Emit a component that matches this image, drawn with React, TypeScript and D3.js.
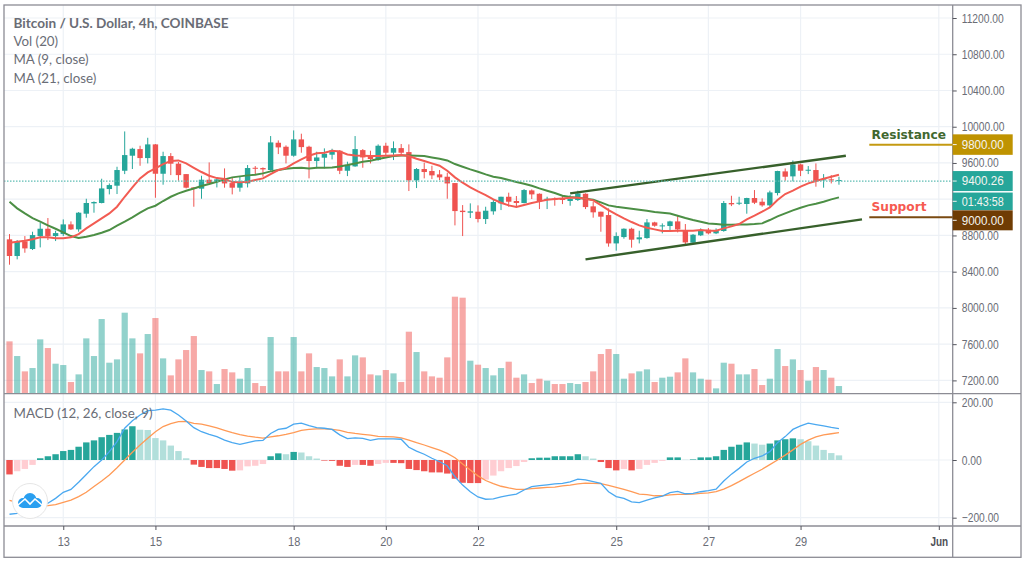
import React, { useEffect, useRef } from "react"
import * as d3 from "d3"

// values, one per 4h bar
const opens = [
  8757,8573,8735,8650,8793,8874,8793,8815,8922,8867,
  9040,9154,9158,9312,9349,9514,9680,9753,9654,9805,
  9481,9676,9592,9477,9330,9316,9415,9389,9426,9378,
  9327,9374,9547,9544,9522,9823,9779,9680,9860,9779,
  9621,9658,9691,9735,9514,9562,9742,9683,9632,9790,
  9713,9764,9720,9408,9533,9511,9474,9448,9378,9073,
  9051,9062,8981,9066,9154,9227,9180,9158,9297,9260,
  9191,9205,9209,9180,9191,9260,9121,9062,9025,8712,
  8782,8874,8757,8771,8944,8900,8904,8955,8860,8720,
  8801,8863,8823,8849,9158,9150,9147,9213,9172,9132,
  9268,9507,9452,9584,9514,9522,9411,9419,9400,
]
const highs = [
  8815,8749,8793,8841,8940,8992,8852,8977,8955,9058,
  9205,9176,9426,9374,9558,9948,9768,9790,9878,9809,
  9724,9709,9610,9477,9330,9459,9606,9441,9540,9441,
  9448,9577,9566,9551,9897,9849,9794,9959,9923,9790,
  9724,9761,9757,9742,9614,9897,9753,9735,9805,9823,
  9838,9809,9805,9544,9603,9569,9522,9492,9378,9135,
  9154,9132,9117,9202,9227,9272,9235,9312,9308,9264,
  9227,9220,9242,9246,9294,9264,9169,9062,9099,8834,
  8878,8885,8852,8981,8951,8933,8962,9025,8926,8815,
  8878,8882,8878,9180,9238,9227,9216,9301,9209,9294,
  9514,9540,9628,9592,9566,9595,9477,9466,9448,
]
const lows = [
  8477,8536,8609,8639,8668,8749,8738,8793,8860,8841,
  8996,9051,9154,9253,9257,9477,9533,9569,9595,9216,
  9360,9466,9404,9319,9117,9205,9374,9330,9327,9253,
  9283,9330,9466,9448,9514,9698,9595,9669,9713,9430,
  9540,9540,9639,9477,9455,9558,9547,9595,9625,9676,
  9632,9687,9290,9323,9430,9422,9411,9205,8911,8793,
  8992,8944,8926,9029,9080,9117,9106,9154,9202,9091,
  9091,9128,9146,9128,9180,9091,8996,8841,8676,8632,
  8764,8665,8712,8764,8896,8823,8852,8834,8705,8712,
  8793,8812,8815,8841,9124,9135,9040,9146,9117,9117,
  9242,9404,9397,9455,9477,9338,9327,9374,9360,
]
const closes = [
  8573,8731,8657,8804,8874,8793,8826,8922,8867,9051,
  9158,9169,9319,9356,9522,9687,9757,9654,9805,9481,
  9676,9592,9466,9327,9316,9415,9374,9419,9374,9327,
  9389,9544,9536,9529,9827,9772,9680,9860,9775,9621,
  9661,9702,9739,9514,9577,9753,9661,9643,9790,9713,
  9764,9713,9408,9533,9500,9463,9441,9374,9069,9058,
  9066,8981,9073,9169,9227,9172,9158,9301,9253,9176,
  9205,9191,9191,9205,9264,9113,9055,9007,8712,8793,
  8874,8753,8779,8944,8907,8911,8955,8867,8723,8808,
  8856,8823,8860,9158,9143,9161,9213,9161,9132,9275,
  9511,9448,9584,9514,9525,9400,9419,9408,9411,
]
const ma9 = [
  8720,8731,8742,8757,8779,8779,8768,8768,8779,8815,
  8878,8933,8988,9043,9117,9227,9330,9430,9496,9540,
  9588,9621,9628,9595,9547,9500,9459,9433,9422,9389,
  9386,9393,9411,9430,9477,9522,9544,9595,9639,9680,
  9706,9713,9735,9727,9694,9683,9680,9676,9676,9680,
  9683,9687,9676,9647,9621,9595,9569,9514,9441,9382,
  9330,9286,9246,9198,9161,9132,9113,9135,9158,9176,
  9194,9202,9209,9216,9216,9205,9187,9135,9080,9032,
  8988,8948,8911,8885,8867,8849,8849,8852,8852,8852,
  8860,8852,8852,8878,8900,8926,8977,9018,9062,9110,
  9191,9257,9294,9338,9375,9400,9426,9448,9470,
]
const ma21 = [
  9172,9099,9043,8992,8952,8911,8874,8834,8793,8771,
  8786,8804,8830,8860,8907,8952,9000,9051,9099,9128,
  9180,9227,9264,9294,9319,9345,9367,9393,9419,9441,
  9452,9463,9470,9485,9507,9522,9536,9544,9547,9540,
  9547,9547,9551,9562,9577,9595,9614,9625,9643,9661,
  9676,9683,9683,9680,9676,9661,9647,9628,9588,9558,
  9529,9503,9474,9448,9433,9411,9389,9371,9349,9319,
  9294,9268,9238,9224,9216,9205,9194,9165,9132,9117,
  9106,9095,9084,9073,9058,9051,9043,9018,8992,8970,
  8952,8933,8926,8918,8918,8922,8922,8926,8933,8970,
  9010,9043,9077,9106,9132,9150,9172,9198,9220,
]
const volumes = [
  157,113,67,77,163,137,90,86,35,58,
  166,113,224,93,103,243,166,121,179,227,
  106,55,103,131,173,71,67,29,74,64,
  45,77,32,23,170,67,67,170,67,121,
  80,77,52,103,52,115,109,58,55,71,
  61,35,186,125,67,52,48,109,291,288,
  99,87,77,55,77,96,48,58,32,45,
  39,29,29,32,29,35,67,119,134,119,
  45,61,67,73,35,48,51,64,106,64,
  45,42,16,93,90,58,58,74,26,45,
  134,83,103,71,39,80,71,48,23,
]
const macdHist = [
  -50,-39,-31,-17,6,13,20,31,35,46,
  61,68,79,87,94,106,117,105,104,76,
  68,50,31,6,-16,-24,-28,-28,-31,-37,
  -36,-22,-20,-14,13,23,20,28,26,13,
  5,-2,-3,-20,-24,-17,-17,-20,-14,-10,
  -10,-11,-31,-35,-39,-43,-43,-47,-65,-79,
  -80,-80,-68,-54,-39,-28,-21,-7,6,8,
  8,13,13,13,20,13,5,-7,-28,-36,
  -31,-36,-31,-17,-10,-3,9,9,1,2,
  9,9,13,35,46,53,61,57,53,57,
  68,72,75,72,65,50,35,24,16,
]
const macdLine = [
  -188,-185,-179,-170,-160,-150,-133,-112,-102,-77,
  -50,-23,0,29,64,110,136,156,171,173,
  177,173,156,135,112,98,89,81,69,60,
  54,60,66,68,92,106,110,124,128,119,
  112,110,106,87,74,77,75,68,73,73,
  73,72,44,31,20,6,-6,-20,-58,-87,
  -110,-128,-136,-135,-128,-123,-118,-104,-92,-89,
  -86,-83,-81,-76,-66,-69,-75,-81,-110,-127,
  -133,-145,-148,-139,-131,-125,-113,-109,-117,-116,
  -110,-106,-101,-73,-49,-29,-7,6,14,29,
  60,81,106,118,128,123,118,113,109,
]
const macdSignal = [
  -140,-147,-153,-157,-160,-158,-155,-147,-139,-127,
  -112,-92,-73,-52,-27,0,27,52,75,98,
  116,126,133,134,127,124,118,111,103,95,
  88,83,79,76,80,84,89,95,103,106,
  108,108,106,103,96,92,89,86,82,81,
  80,77,69,60,52,43,34,23,8,-14,
  -35,-55,-71,-82,-91,-97,-102,-102,-99,-97,
  -95,-94,-90,-87,-83,-80,-81,-82,-88,-95,
  -102,-110,-118,-120,-124,-124,-121,-119,-119,-118,
  -116,-114,-110,-101,-89,-75,-60,-46,-32,-16,
  0,17,35,54,69,80,87,91,95,
]

const priceGrid = [11200,10800,10400,10000,9600,9200,8800,8400,8000,7600,7200]
// 9200 sits behind the countdown tag, so it gets no label
const priceTicks = [11200,10800,10400,10000,9600,8800,8400,8000,7600,7200]
const macdTicks = [200,0,-200]
const dayBars = [7,19,37,49,61,79,91,103,121]
const dayLabels = ["13","15","18","20","22","25","27","29","Jun"]

// [bar, price] ends of the channel drawn on the chart
const upperTrend = [[73,9264],[108.9,9680]]
const lowerTrend = [[75,8536],[111,8977]]

const lastPrice = 9400.26
const countdown = "01:43:58"
const resistance = 9800
const support = 9000
const legend = ["Vol (20)","MA (9, close)","MA (21, close)"]

const UP = "#26a69a"
const DOWN = "#ef5350"
const GRID = "#edf1f6"
const FRAME = "#8c8c94"
const TEXT = "#6a6d76"
const AXIS_FONT = "'Liberation Sans', Arial, sans-serif"
const LEGEND_FONT = "Lato, 'Open Sans', sans-serif"

const paneRight = 952.7
const frameRight = 1021
const frameTop = 5
const paneBottom = 393.7
const timeAxisY = 526
const frameBottom = 557.3

export default function App() {
  const ref = useRef<SVGSVGElement>(null)

  useEffect(() => {
    const svg = d3.select(ref.current)
    svg.selectAll("*").remove()

    const x = d3.scaleLinear().domain([0, 121]).range([9.5, 938.8])
    const yPrice = d3.scaleLinear().domain([7200, 11200]).range([380.4, 18])
    const yVol = d3.scaleLinear().domain([0, 291]).range([paneBottom, 296.7])
    const yMacd = d3.scaleLinear().domain([-200, 200]).range([517.7, 402.3])
    const bars = d3.range(opens.length)

    // grid
    const grid = svg.append("g").attr("stroke", GRID).attr("stroke-width", 1.2)
    grid.selectAll(".gy").data(priceGrid).join("line")
      .attr("class", "gy").attr("x1", 4).attr("x2", paneRight)
      .attr("y1", d => yPrice(d)).attr("y2", d => yPrice(d))
    grid.selectAll(".gm").data(macdTicks).join("line")
      .attr("class", "gm").attr("x1", 4).attr("x2", paneRight)
      .attr("y1", d => yMacd(d)).attr("y2", d => yMacd(d))
    grid.selectAll(".gx").data(dayBars).join("line")
      .attr("class", "gx").attr("y1", frameTop).attr("y2", timeAxisY)
      .attr("x1", d => x(d)).attr("x2", d => x(d))

    // volume
    svg.append("g").selectAll("rect").data(bars).join("rect")
      .attr("x", i => x(i) - 3.1).attr("width", 6.2)
      .attr("y", i => yVol(volumes[i]))
      .attr("height", i => yVol(0) - yVol(volumes[i]))
      .attr("fill", i => closes[i] >= opens[i] ? UP : DOWN)
      .attr("fill-opacity", 0.5)

    // macd histogram, dark when moving away from zero
    svg.append("g").selectAll("rect").data(bars).join("rect")
      .attr("x", i => x(i) - 3.2).attr("width", 6.4)
      .attr("y", i => yMacd(Math.max(0, macdHist[i])))
      .attr("height", i => Math.abs(yMacd(macdHist[i]) - yMacd(0)))
      .attr("fill", i => {
        const v = macdHist[i]
        const prev = i > 0 ? macdHist[i - 1] : 0
        if (v >= 0) return v >= prev ? "#26a69a" : "#b2dfdb"
        return v <= prev ? "#ef5350" : "#ffcdd2"
      })

    const line = (yScale: d3.ScaleLinear<number, number>) =>
      d3.line<number>().x((_, i) => x(i)).y(d => yScale(d)).curve(d3.curveLinear)

    svg.append("path").attr("d", line(yMacd)(macdSignal))
      .attr("fill", "none").attr("stroke", "#ff9a56").attr("stroke-width", 1.3)
    svg.append("path").attr("d", line(yMacd)(macdLine))
      .attr("fill", "none").attr("stroke", "#4aa8f0").attr("stroke-width", 1.3)

    // candles
    const candles = svg.append("g").selectAll("g").data(bars).join("g")
      .attr("fill", i => closes[i] >= opens[i] ? UP : DOWN)
      .attr("stroke", i => closes[i] >= opens[i] ? UP : DOWN)
    candles.append("line")
      .attr("x1", i => x(i)).attr("x2", i => x(i))
      .attr("y1", i => yPrice(highs[i])).attr("y2", i => yPrice(lows[i]))
      .attr("stroke-width", 1)
    candles.append("rect")
      .attr("x", i => x(i) - 2.7).attr("width", 5.4)
      .attr("y", i => yPrice(Math.max(opens[i], closes[i])))
      .attr("height", i => Math.max(1, Math.abs(yPrice(opens[i]) - yPrice(closes[i]))))
      .attr("stroke", "none")

    // moving averages
    svg.append("path").attr("d", line(yPrice)(ma21))
      .attr("fill", "none").attr("stroke", "#4c8f45").attr("stroke-width", 2)
    svg.append("path").attr("d", line(yPrice)(ma9))
      .attr("fill", "none").attr("stroke", "#f25b52").attr("stroke-width", 2)

    // channel
    svg.append("g").selectAll("line").data([upperTrend, lowerTrend]).join("line")
      .attr("x1", d => x(d[0][0])).attr("y1", d => yPrice(d[0][1]))
      .attr("x2", d => x(d[1][0])).attr("y2", d => yPrice(d[1][1]))
      .attr("stroke", "#37602b").attr("stroke-width", 2.4)

    // last price
    svg.append("line")
      .attr("x1", 4).attr("x2", paneRight)
      .attr("y1", yPrice(lastPrice)).attr("y2", yPrice(lastPrice))
      .attr("stroke", "#5fbdb4").attr("stroke-width", 1.2).attr("stroke-dasharray", "1.5 1.5")

    // logo
    const logo = svg.append("g").attr("transform", "translate(30,501)")
    logo.append("circle").attr("r", 17.5).attr("fill", "#fff").attr("stroke", "#e6e6e6")
    const cloud = logo.append("g").attr("fill", "#2a9ff0")
    cloud.append("circle").attr("cx", -7).attr("cy", 2).attr("r", 5)
    cloud.append("circle").attr("cx", 0).attr("cy", -1.5).attr("r", 6.5)
    cloud.append("circle").attr("cx", 7).attr("cy", 2).attr("r", 5)
    cloud.append("rect").attr("x", -7).attr("y", 2).attr("width", 14).attr("height", 5)
    logo.append("path").attr("d", "M-12,4 L-5,-2 L0,3 L5,-2 L12,4")
      .attr("fill", "none").attr("stroke", "#fff").attr("stroke-width", 1.6)

    // frame
    const frame = svg.append("g").attr("stroke", FRAME).attr("stroke-width", 1.3)
    frame.append("rect").attr("x", 4).attr("y", frameTop)
      .attr("width", frameRight - 4).attr("height", frameBottom - frameTop).attr("fill", "none")
    const rules = [[4, paneBottom, frameRight, paneBottom], [4, timeAxisY, frameRight, timeAxisY], [paneRight, frameTop, paneRight, frameBottom]]
    frame.selectAll("line").data(rules).join("line")
      .attr("x1", d => d[0]).attr("y1", d => d[1]).attr("x2", d => d[2]).attr("y2", d => d[3])

    // axes
    const styleAxis = (g: any) => {
      g.select(".domain").remove()
      g.selectAll("line").attr("stroke", "#55565e")
      g.selectAll("text").attr("fill", TEXT).attr("font-family", AXIS_FONT).attr("font-size", 12.5)
    }
    const fmt = d3.format(".2f")
    const priceAxis = svg.append("g").attr("transform", `translate(${paneRight},0)`)
      .call(d3.axisRight(yPrice).tickValues(priceTicks).tickFormat(fmt).tickSize(4).tickPadding(5))
    styleAxis(priceAxis)
    const macdAxis = svg.append("g").attr("transform", `translate(${paneRight},0)`)
      .call(d3.axisRight(yMacd).tickValues(macdTicks).tickFormat(fmt).tickSize(4).tickPadding(5))
    styleAxis(macdAxis)
    svg.selectAll(".tick text").attr("lengthAdjust", "spacingAndGlyphs")
      .attr("textLength", function () { return (this as SVGTextElement).getComputedTextLength() * 0.82 })

    const timeAxis = svg.append("g").attr("transform", `translate(0,${timeAxisY})`)
      .call(d3.axisBottom(x).tickValues(dayBars)
        .tickFormat((_, i) => dayLabels[i]).tickSize(4).tickPadding(7))
    styleAxis(timeAxis)
    timeAxis.selectAll("text").attr("lengthAdjust", "spacingAndGlyphs")
      .attr("textLength", function () { return (this as SVGTextElement).getComputedTextLength() * 0.88 })
    timeAxis.selectAll("text").filter((_, i) => i === dayLabels.length - 1)
      .attr("font-weight", "bold").attr("fill", "#4f5058")

    // price tags
    const tag = (top: number, bottom: number, fill: string, label: string) => {
      svg.append("rect").attr("x", paneRight).attr("y", top)
        .attr("width", 60).attr("height", bottom - top).attr("fill", fill)
      svg.append("text").attr("x", 961.7).attr("y", (top + bottom) / 2 + 4.4)
        .attr("fill", "#f4f4f0").attr("font-family", AXIS_FONT).attr("font-size", 12.5)
        .attr("textLength", 42).attr("lengthAdjust", "spacingAndGlyphs").text(label)
      svg.append("line").attr("x1", paneRight).attr("x2", paneRight + 4)
        .attr("y1", (top + bottom) / 2).attr("y2", (top + bottom) / 2).attr("stroke", "#f4f4f0")
    }
    const yLast = yPrice(lastPrice)
    tag(yPrice(resistance) - 10.5, yPrice(resistance) + 10, "#bf9300", fmt(resistance))
    tag(yLast - 10, yLast + 10, UP, fmt(lastPrice))
    tag(yLast + 11.5, yLast + 29, UP, countdown)
    tag(yPrice(support) - 7, yPrice(support) + 13, "#6f3c04", fmt(support))

    // resistance / support
    svg.append("line").attr("x1", 869.3).attr("x2", paneRight)
      .attr("y1", yPrice(resistance)).attr("y2", yPrice(resistance))
      .attr("stroke", "#c49a12").attr("stroke-width", 2)
    svg.append("line").attr("x1", 869.3).attr("x2", paneRight)
      .attr("y1", yPrice(support)).attr("y2", yPrice(support))
      .attr("stroke", "#7a4a12").attr("stroke-width", 2)
    svg.append("text").attr("x", 871.5).attr("y", 139)
      .attr("fill", "#41682f").attr("font-family", "'DejaVu Sans', sans-serif").attr("font-weight", "bold")
      .attr("font-size", 13).attr("textLength", 74.5).attr("lengthAdjust", "spacingAndGlyphs")
      .text("Resistance")
    svg.append("text").attr("x", 871.5).attr("y", 210.5)
      .attr("fill", "#f65a50").attr("font-family", "'DejaVu Sans', sans-serif").attr("font-weight", "bold")
      .attr("font-size", 13).attr("textLength", 55).attr("lengthAdjust", "spacingAndGlyphs")
      .text("Support")

    // legend
    svg.append("text").attr("x", 13.5).attr("y", 28)
      .attr("fill", TEXT).attr("font-family", LEGEND_FONT).attr("font-size", 13).attr("font-weight", "bold")
      .attr("textLength", 215).attr("lengthAdjust", "spacingAndGlyphs")
      .text("Bitcoin / U.S. Dollar, 4h, COINBASE")
    svg.append("g").selectAll("text").data(legend).join("text")
      .attr("x", 13.5).attr("y", (_, i) => 46 + i * 18.4)
      .attr("fill", TEXT).attr("font-family", LEGEND_FONT).attr("font-size", 13.3)
      .text(d => d)
    svg.append("text").attr("x", 13.5).attr("y", 417.5)
      .attr("fill", TEXT).attr("font-family", LEGEND_FONT).attr("font-size", 13)
      .attr("textLength", 139).attr("lengthAdjust", "spacingAndGlyphs")
      .text("MACD (12, 26, close, 9)")
  }, [])

  return (
    <svg
      ref={ref}
      width={1029}
      height={563}
      style={{ position: "absolute", left: 0, top: 0, background: "#fff" }}
    />
  )
}
